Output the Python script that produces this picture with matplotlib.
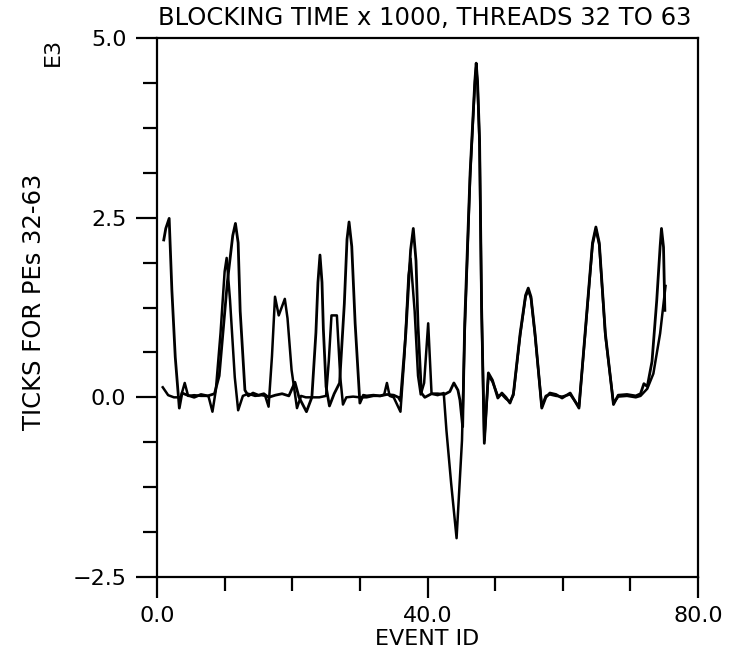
import matplotlib
matplotlib.use("Agg")
import matplotlib.pyplot as plt
from matplotlib.ticker import MultipleLocator

title = "BLOCKING TIME x 1000, THREADS 32 TO 63"
xlabel = "EVENT ID"
ylabel = "TICKS FOR PEs 32-63"
scale_note = "E3"
x_ticks = [0.0, 40.0, 80.0]
x_tick_labels = ["0.0", "40.0", "80.0"]
y_ticks = [-2.5, 0.0, 2.5, 5.0]
y_tick_labels = ["\u22122.5", "0.0", "2.5", "5.0"]

# curve A (values in thousands of ticks)
event_a = [1.0, 1.3, 1.8, 2.2, 2.7, 3.3, 3.7, 4.5, 5.5, 6.5, 7.5, 8.5, 9.2, 10.4,
           11.2, 11.6, 12.0, 12.3, 13.0, 13.5, 14.2, 15.0, 15.8, 16.5, 17.5, 18.5,
           19.5, 20.4, 21.0, 22.1, 22.9, 23.5, 23.8, 24.1, 24.4, 24.6, 25.0, 25.5,
           26.2, 27.0, 27.7, 28.1, 28.4, 28.8, 29.3, 30.0, 30.5, 31.0, 32.0, 33.0,
           34.0, 35.0, 35.7, 36.0, 36.8, 37.5, 37.9, 38.3, 38.6, 39.1, 39.6, 40.6,
           41.5, 42.5, 43.3, 43.9, 44.5, 44.8, 45.2, 45.5, 46.3, 47.0, 47.2, 47.4,
           47.7, 48.0, 48.4, 49.0, 49.6, 50.4, 51.0, 51.6, 52.2, 52.7, 53.7, 54.5,
           54.9, 55.3, 55.9, 56.9, 57.5, 58.1, 59.0, 59.9, 61.1, 62.4, 63.3, 64.4,
           64.9, 65.4, 66.3, 67.5, 68.2, 69.5, 70.8, 71.5, 72.0, 72.5, 73.2, 73.9,
           74.4, 74.6, 74.9, 75.1]
ticks_a = [2.19, 2.35, 2.49, 1.49, 0.56, -0.15, 0.06, 0.03, 0.00, 0.04, 0.02, 0.05,
           0.30, 1.60, 2.25, 2.42, 2.15, 1.20, 0.10, 0.02, 0.06, 0.03, 0.05, 0.00,
           0.03, 0.05, 0.02, 0.21, 0.00, -0.20, 0.00, 0.90, 1.60, 1.98, 1.60, 0.95,
           0.15, -0.12, 0.05, 0.20, 1.30, 2.20, 2.44, 2.10, 1.03, -0.08, 0.03, 0.02,
           0.03, 0.02, 0.04, 0.03, 0.00, -0.05, 0.90, 2.05, 2.35, 1.90, 1.00, 0.06,
           0.00, 0.05, 0.05, 0.04, 0.08, 0.20, 0.10, -0.04, -0.41, 1.03, 3.12, 4.40,
           4.65, 4.40, 3.58, 1.26, -0.64, 0.34, 0.24, -0.01, 0.06, 0.00, -0.08, 0.05,
           0.89, 1.42, 1.52, 1.40, 0.89, -0.15, 0.00, 0.06, 0.04, -0.01, 0.06, -0.15,
           0.89, 2.15, 2.37, 2.15, 0.89, -0.10, 0.03, 0.04, 0.02, 0.05, 0.19, 0.15,
           0.50, 1.35, 2.10, 2.35, 2.09, 1.21]

# curve B
event_b = [0.85, 1.65, 2.5, 3.5, 4.1, 4.6, 5.5, 6.5, 7.6, 8.2, 8.7, 9.4, 10.0, 10.3,
           10.8, 11.5, 12.0, 12.7, 13.5, 14.5, 15.5, 16.0, 16.5, 17.0, 17.45, 18.0,
           18.9, 19.3, 19.9, 20.7, 21.3, 22.0, 23.0, 24.0, 25.0, 25.4, 25.8, 26.6,
           27.1, 27.5, 28.0, 29.0, 30.0, 31.0, 32.0, 33.0, 33.6, 34.0, 34.4, 35.0,
           36.0, 36.6, 37.2, 37.5, 38.1, 38.6, 39.0, 39.5, 40.1, 40.6, 41.5, 42.4,
           42.8, 43.5, 44.3, 45.1, 45.5, 46.3, 47.0, 47.2, 47.4, 47.7, 48.0, 48.4,
           49.0, 49.6, 50.4, 51.0, 51.6, 52.2, 52.7, 53.7, 54.5, 54.9, 55.3, 55.9,
           56.9, 57.5, 58.1, 59.0, 59.9, 61.1, 62.4, 63.3, 64.4, 64.9, 65.4, 66.3,
           67.5, 68.2, 69.5, 70.8, 71.5, 72.5, 73.4, 74.4, 75.2]
ticks_b = [0.14, 0.03, 0.00, 0.00, 0.20, 0.02, 0.03, 0.02, 0.02, -0.20, 0.10, 0.90,
           1.75, 1.94, 1.35, 0.28, -0.18, 0.02, 0.05, 0.02, 0.03, 0.02, -0.13, 0.57,
           1.40, 1.14, 1.37, 1.10, 0.38, -0.15, 0.02, 0.00, 0.00, 0.00, 0.02, 0.50,
           1.14, 1.14, 0.28, -0.10, 0.00, 0.01, 0.00, 0.00, 0.02, 0.02, 0.04, 0.20,
           0.02, 0.00, -0.20, 0.60, 1.70, 1.93, 1.20, 0.30, 0.04, 0.20, 1.03, 0.05,
           0.03, 0.06, -0.46, -1.20, -1.96, -0.60, 0.90, 3.05, 4.35, 4.60, 4.35, 3.50,
           1.20, -0.60, 0.30, 0.22, 0.02, 0.04, -0.02, -0.06, 0.03, 0.86, 1.40, 1.49,
           1.38, 0.86, -0.13, 0.02, 0.04, 0.02, 0.01, 0.04, -0.13, 0.86, 2.12, 2.34,
           2.12, 0.86, -0.08, 0.01, 0.02, 0.00, 0.02, 0.12, 0.33, 0.89, 1.55]

W, H = 737, 656
fig = plt.figure(figsize=(W / 100, H / 100), dpi=100)
plt.rcParams['font.family'] = ['DejaVu Sans']
L, R, T, B = 157, 698, 38, 577
ax = fig.add_axes([L / W, 1 - B / H, (R - L) / W, (B - T) / H])

ax.plot(event_a, ticks_a, color='black', lw=2.0, solid_joinstyle='round')
ax.plot(event_b, ticks_b, color='black', lw=1.8, solid_joinstyle='round')

ax.set_xlim(0, 80)
ax.set_ylim(-2.5, 5.0)
ax.set_xticks(x_ticks)
ax.set_xticklabels(x_tick_labels)
ax.set_yticks(y_ticks)
ax.set_yticklabels(y_tick_labels)
ax.xaxis.set_minor_locator(MultipleLocator(10))
ax.yaxis.set_minor_locator(MultipleLocator(0.625))
ax.tick_params(axis='both', which='major', direction='out', length=15, width=1.6,
               labelsize=16)
ax.tick_params(axis='both', which='minor', direction='out', length=10, width=1.6)
ax.tick_params(axis='x', which='major', pad=6)
ax.tick_params(axis='y', which='major', pad=7)
for s in ax.spines.values():
    s.set_linewidth(1.6)

fig.text(425 / W, 1 - 18 / H, title, ha='center', va='center', fontsize=17.5)
fig.text((L + R) / 2 / W, 1 - 639 / H, xlabel, ha='center', va='center', fontsize=16)
fig.text(34 / W, 1 - 302 / H, ylabel, ha='center', va='center', rotation=90, fontsize=17.5)
fig.text(53 / W, 1 - 52 / H, scale_note, ha='center', va='center', rotation=90, fontsize=16)

fig.savefig("out.png", dpi=100)
